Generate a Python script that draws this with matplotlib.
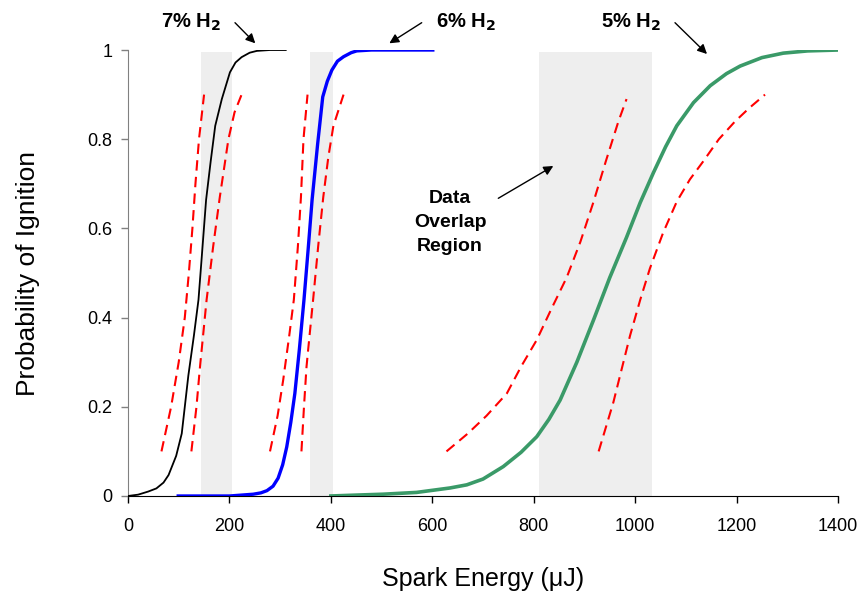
"""Spark ignition probability curves for H2 mixtures."""

import matplotlib
matplotlib.use("Agg")
import matplotlib.pyplot as plt
from matplotlib.patches import FancyArrowPatch

# 7% H2 fitted curve
h7_energy = [0, 20, 40, 56, 70, 80, 95, 106, 119, 130, 139, 154, 163, 172, 185, 201, 212, 224, 240, 254, 280, 311]
h7_prob = [0, 0.003, 0.01, 0.017, 0.03, 0.047, 0.09, 0.14, 0.27, 0.36, 0.44, 0.664, 0.75, 0.83, 0.89, 0.95, 0.972, 0.984, 0.994, 0.998, 1.0, 1.0]

# 6% H2 fitted curve
h6_energy = [99, 150, 200, 247, 262, 274, 286, 296, 305, 313, 321, 329, 338, 347, 355, 363, 374, 384, 393, 402, 413, 425, 440, 451, 480, 520, 601]
h6_prob = [0, 0, 0, 0.004, 0.007, 0.012, 0.022, 0.04, 0.07, 0.11, 0.165, 0.23, 0.33, 0.44, 0.55, 0.664, 0.79, 0.895, 0.93, 0.955, 0.975, 0.985, 0.994, 0.998, 1.0, 1.0, 1.0]

# 5% H2 fitted curve
h5_energy = [400, 450, 503, 569, 635, 668, 700, 740, 775, 806, 830, 852, 885, 918, 950, 983, 1010, 1036, 1060, 1082, 1115, 1148, 1180, 1207, 1250, 1292, 1340, 1400]
h5_prob = [0, 0.002, 0.004, 0.008, 0.018, 0.025, 0.038, 0.066, 0.098, 0.133, 0.172, 0.215, 0.3, 0.395, 0.49, 0.58, 0.658, 0.725, 0.783, 0.83, 0.882, 0.92, 0.947, 0.964, 0.983, 0.993, 0.998, 1.0]

# confidence bounds (red dashed)
h7_lo_energy = [66, 85, 100, 112, 120, 127, 133, 140, 150]
h7_lo_prob = [0.1, 0.2, 0.3, 0.4, 0.5, 0.6, 0.7, 0.8, 0.9]
h7_hi_energy = [125, 135, 142, 155, 168, 181, 198, 210, 224]
h7_hi_prob = [0.1, 0.2, 0.29, 0.44, 0.56, 0.67, 0.8, 0.86, 0.9]
h6_lo_energy = [280, 295, 306, 318, 327, 335, 341, 346, 354]
h6_lo_prob = [0.1, 0.18, 0.26, 0.36, 0.44, 0.56, 0.67, 0.8, 0.9]
h6_hi_energy = [342, 347, 352, 358, 365, 375, 385, 395, 405, 425]
h6_hi_prob = [0.1, 0.2, 0.29, 0.36, 0.44, 0.56, 0.67, 0.76, 0.83, 0.9]
h5_lo_energy = [628, 670, 707, 747, 775, 806, 835, 865, 892, 918, 942, 967, 983]
h5_lo_prob = [0.1, 0.14, 0.18, 0.23, 0.29, 0.35, 0.42, 0.49, 0.57, 0.66, 0.75, 0.84, 0.89]
h5_hi_energy = [928, 957, 990, 1010, 1029, 1055, 1082, 1108, 1134, 1165, 1197, 1225, 1256]
h5_hi_prob = [0.1, 0.21, 0.36, 0.44, 0.51, 0.59, 0.66, 0.71, 0.75, 0.8, 0.84, 0.87, 0.9]

# data overlap regions
overlap_starts = [144, 359, 810]
overlap_ends = [205, 405, 1033]

x_ticks = [0, 200, 400, 600, 800, 1000, 1200, 1400]
y_ticks = [0, 0.2, 0.4, 0.6, 0.8, 1.0]
y_tick_labels = ["0", "0.2", "0.4", "0.6", "0.8", "1"]

plt.rcParams["font.family"] = ["Liberation Sans", "DejaVu Sans"]

fig = plt.figure(figsize=(8.59, 5.94), dpi=100)
ax = fig.add_axes([0.149, 0.165, 0.8266, 0.7508])

for start, end in zip(overlap_starts, overlap_ends):
    ax.axvspan(start, end, ymin=0, ymax=0.995, color="#eeeeee", lw=0, zorder=0)

dash = (0, (5, 3))
for xs, ys in [(h7_lo_energy, h7_lo_prob), (h7_hi_energy, h7_hi_prob),
               (h6_lo_energy, h6_lo_prob), (h6_hi_energy, h6_hi_prob),
               (h5_lo_energy, h5_lo_prob), (h5_hi_energy, h5_hi_prob)]:
    ax.plot(xs, ys, color="#ff0000", lw=1.5, linestyle=dash, zorder=2)

ax.plot(h7_energy, h7_prob, color="black", lw=1.3, zorder=3)
ax.plot(h6_energy, h6_prob, color="#0000ff", lw=2.4, zorder=3)
ax.plot(h5_energy, h5_prob, color="#3a9a68", lw=2.6, zorder=3)

ax.set_xlim(0, 1400)
ax.set_ylim(0, 1)
ax.set_xticks(x_ticks)
ax.set_yticks(y_ticks)
ax.set_yticklabels(y_tick_labels)
ax.tick_params(direction="out", length=5, width=1, labelsize=13)
ax.tick_params(axis="x", pad=11)
ax.tick_params(axis="y", color="#808080", pad=6)
ax.spines["top"].set_visible(False)
ax.spines["right"].set_visible(False)
ax.spines["left"].set_color("#808080")
ax.spines["bottom"].set_color("black")
ax.set_xlabel("Spark Energy (\u03bcJ)", fontsize=18, labelpad=23)
ax.set_ylabel("Probability of Ignition", fontsize=19, labelpad=34)

label_kw = dict(fontsize=14.5, fontweight="bold", ha="center", va="center")
fig.text(0.222, 0.962, "7% H$_\\mathbf{2}$", **label_kw)
fig.text(0.543, 0.962, "6% H$_\\mathbf{2}$", **label_kw)
fig.text(0.735, 0.962, "5% H$_\\mathbf{2}$", **label_kw)
fig.text(0.524, 0.626, "Data\nOverlap\nRegion", fontsize=14, fontweight="bold", ha="center",
         va="center", linespacing=1.55)


def fig_px(x, y):
    return (x / 859, 1 - y / 594)


arrow = dict(arrowstyle="-|>", color="black", lw=1, mutation_scale=14, shrinkA=0, shrinkB=0)
for tail, head in [((235, 22.7), (255.3, 43.3)), ((421.7, 22.7), (389.3, 43.3)),
                   ((675, 22.7), (707, 54)), ((498.3, 198.3), (553.3, 166))]:
    fig.add_artist(FancyArrowPatch(fig_px(*tail), fig_px(*head), transform=fig.transFigure, **arrow))

fig.savefig("out.png", dpi=100)
